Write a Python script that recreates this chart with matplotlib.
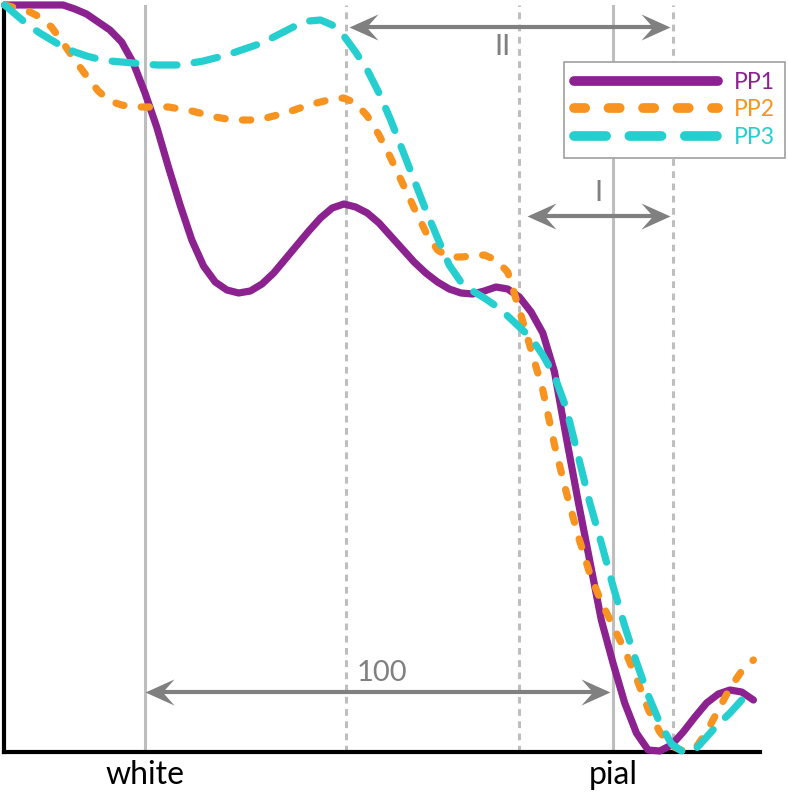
#! /usr/bin/env python3
import matplotlib
matplotlib.use('Agg')
import matplotlib.pyplot as plt
from matplotlib.lines import Line2D
from matplotlib.path import Path

plt.rcParams['font.family'] = ['Lato', 'DejaVu Sans']

# cortical depth, % of thickness (0 = white surface, 100 = pial surface)
depth = [-30, -27.5, -25, -22.5, -20, -17.5, -15, -12.5, -10, -7.5, -5, -2.5,
         0, 2.5, 5, 7.5, 10, 12.5, 15, 17.5, 20, 22.5, 25, 27.5, 30, 32.5,
         35, 37.5, 40, 42.5, 45, 47.5, 50, 52.5, 55, 57.5, 60, 62.5, 65, 67.5,
         70, 72.5, 75, 77.5, 80, 82.5, 85, 87.5, 90, 92.5, 95, 97.5, 100,
         102.5, 105, 107.5, 110, 112.5, 115, 117.5, 120, 122.5, 125, 127.5, 130]

# intensity profiles (a.u.)
pp1 = [747, 747, 747, 747, 747, 747, 743, 738, 730, 722, 710, 689, 659, 625,
       585, 547, 512, 486, 470, 462, 459, 461, 468, 479, 493, 507, 521, 534,
       544, 548, 545, 539, 529, 516, 503, 490, 479, 470, 463, 459, 458, 461,
       465, 463, 455, 440, 419, 380, 315, 252, 192, 132, 89, 49, 19, 2, 1, 7,
       20, 35, 49, 58, 62, 60, 52]
pp2 = [747, 744, 741, 735, 725, 709, 692, 676, 661, 651, 647, 645, 645, 645,
       645, 643, 641, 638, 635, 633, 632, 632, 633, 636, 639, 643, 647, 650,
       653, 654, 649, 636, 617, 594, 569, 544, 520, 502, 495, 495, 496, 497,
       492, 480, 442, 402, 362, 307, 260, 217, 179, 150, 126, 102, 74, 43, 20,
       6, 1, 3, 20, 42, 64, 81, 92]
pp3 = [747, 737, 727, 719, 712, 705, 700, 696, 693, 691, 690, 689, 688, 687,
       687, 687, 689, 691, 694, 697, 701, 705, 709, 715, 721, 727, 731, 732,
       727, 716, 700, 682, 659, 632, 602, 572, 542, 514, 487, 470, 461, 454,
       446, 436, 425, 414, 397, 376, 344, 297, 250, 209, 166, 126, 90, 57, 29,
       8, 0, 2, 15, 28, 39, 52, 64]

series_names = ['PP1', 'PP2', 'PP3']
series_colors = ['#8C2290', '#F7931E', '#26CFCF']
series_dashes = [None, (1.15, 2.4), (3.3, 2.4)]

surfaces = [0, 100]
surface_names = ['white', 'pial']
bins = [42.9, 79.9, 112.8]

# (label, left tip, right tip, height, label x, label y)
spans = [('II', 43.5, 112.2, 725, 76.3, 705),
         ('I', 81.6, 112.2, 536, 96.8, 559),
         ('100', 0.0, 99.4, 60, 50.6, 79)]

xmin, xmax = -30.13, 131.41
ymin, ymax = 0, 747
grey = '#808080'

head = Path([(0, 0), (-1, 0.45), (-0.6, 0), (-1, -0.45), (0, 0)],
            [Path.MOVETO, Path.LINETO, Path.LINETO, Path.LINETO, Path.CLOSEPOLY])
head_left = Path([(0, 0), (1, 0.45), (0.6, 0), (1, -0.45), (0, 0)], head.codes)


def draw_span(ax, x0, x1, y, ux):
    head_px = 29
    s = 0.55 * head_px * ux
    ax.plot([x0 + s, x1 - s], [y, y], color=grey, lw=3,
            solid_capstyle='butt', zorder=4, clip_on=False)
    ms = 2 * head_px * 0.72
    ax.plot([x0], [y], marker=head_left, ms=ms, color=grey, mew=0,
            zorder=4, clip_on=False)
    ax.plot([x1], [y], marker=head, ms=ms, color=grey, mew=0,
            zorder=4, clip_on=False)


fig = plt.figure(figsize=(7.88, 7.92), dpi=100)
ax = fig.add_axes([4 / 788, 40 / 792, 756 / 788, 747 / 792])
ax.set_xlim(xmin, xmax)
ax.set_ylim(ymin, ymax)
ux = (xmax - xmin) / 756.0

for s in surfaces:
    ax.axvline(s, color='#BEBEBE', lw=2.2, zorder=1)
for b in bins:
    ax.axvline(b, color='#BEBEBE', lw=2.2, ls=(0, (2.2, 1.8)), zorder=1)

handles = []
for vals, name, c, d in zip([pp1, pp2, pp3], series_names, series_colors, series_dashes):
    kw = dict(color=c, lw=5.2, solid_capstyle='round', dash_capstyle='round',
              solid_joinstyle='round', dash_joinstyle='round', zorder=3,
              clip_on=False)
    if d is not None:
        kw['dashes'] = d
    ax.plot(depth, vals, **kw)
    kw.pop('zorder'); kw.pop('clip_on')
    kw['lw'] = 7
    handles.append(Line2D([], [], label=name, **kw))

for label, x0, x1, y, lx, ly in spans:
    draw_span(ax, x0, x1, y, ux)
    ax.text(lx, ly, label, color=grey, fontsize=21,
            ha='center', va='center', zorder=4)

for side in ['top', 'right']:
    ax.spines[side].set_visible(False)
for side in ['left', 'bottom']:
    ax.spines[side].set_linewidth(3)
    ax.spines[side].set_color('black')

ax.set_yticks([])
ax.set_xticks(surfaces, surface_names)
ax.tick_params(axis='x', length=0, pad=6, labelsize=23)

leg = fig.legend(handles=handles, loc='upper right',
                 bbox_to_anchor=(785 / 788, 1 - 62 / 792), borderaxespad=0,
                 fontsize=16.5, handlelength=6.3, handletextpad=0.7,
                 borderpad=0.42, labelspacing=0.3, fancybox=False,
                 framealpha=1, edgecolor='#A0A0A0')
leg.get_frame().set_linewidth(1.2)
leg.set_zorder(6)
for t, c in zip(leg.get_texts(), series_colors):
    t.set_color(c)

plt.savefig('out.png', dpi=100)
